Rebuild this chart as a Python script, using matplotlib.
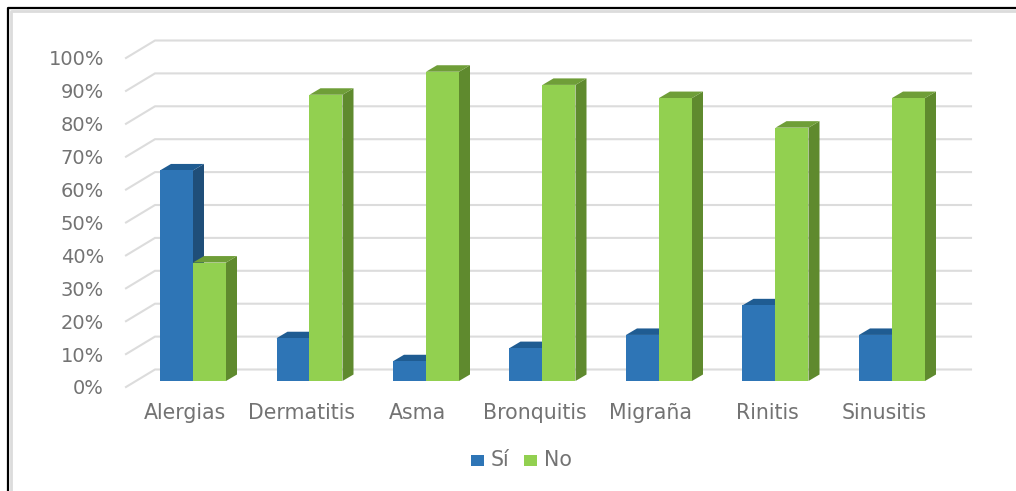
import matplotlib
matplotlib.use("Agg")
import matplotlib.pyplot as plt
from matplotlib.patches import Polygon, Rectangle
from matplotlib.lines import Line2D

plt.rcParams['font.family'] = ['DejaVu Sans']

categories = ["Alergias", "Dermatitis", "Asma", "Bronquitis", "Migraña", "Rinitis", "Sinusitis"]
si_values = [64, 13, 6, 10, 14, 23, 14]
no_values = [36, 87, 94, 90, 86, 77, 86]
y_ticks = list(range(0, 101, 10))
series_names = ["Sí", "No"]

W, H = 1016, 491
FS_TICK = 14.0
FS_CAT = 14.8
TEXT = "#737373"
fig = plt.figure(figsize=(W / 100, H / 100), dpi=100, facecolor="white")

# Canvas axes in pixel units for the frame of the picture
frame = fig.add_axes([0, 0, 1, 1], zorder=0)
frame.set_xlim(0, W)
frame.set_ylim(H, 0)
frame.axis("off")
frame.add_line(Line2D([10.6, 10.6, W], [H, 10.6, 10.6], color="#dcdcdc", lw=2.0))
frame.add_line(Line2D([8.2, 8.2, W], [H, 8.2, 8.2], color="black", lw=1.6))

# Plot axes: x in category units, y in percent
X0, XSTEP = 193.0, 116.5
Y0, YSCALE = 381.0, 3.29
ax = fig.add_axes([0, 0, 1, 1], zorder=1)
ax.set_xlim(-X0 / XSTEP, (W - X0) / XSTEP)
ax.set_ylim((Y0 - H) / YSCALE, Y0 / YSCALE)
ax.axis("off")
ax.patch.set_alpha(0)

BAR_W = 33.0 / XSTEP
DX, DY = 11.0 / XSTEP, 6.5 / YSCALE
GRID = "#dcdcdc"

# Gridlines on the side wall and back wall
left_front = (126 - X0) / XSTEP
left_back = (155 - X0) / XSTEP
right_back = (971 - X0) / XSTEP
front_drop, back_rise = 6.0 / YSCALE, 11.5 / YSCALE
for t in y_ticks:
    ax.plot([left_front, left_back, right_back],
            [t - front_drop, t + back_rise, t + back_rise],
            color=GRID, lw=1.5, solid_joinstyle="miter", zorder=1)
    ax.text((104 - X0) / XSTEP, t - front_drop - 0.6, f"{t}%",
            ha="right", va="center", color=TEXT, fontsize=FS_TICK, zorder=5)


def bar3d(x, v, front, top, side, z):
    ax.add_patch(Polygon([(x + BAR_W, 0), (x + BAR_W + DX, DY), (x + BAR_W + DX, v + DY), (x + BAR_W, v)],
                         closed=True, fc=side, ec="none", zorder=z))
    ax.add_patch(Polygon([(x, v), (x + DX, v + DY), (x + BAR_W + DX, v + DY), (x + BAR_W, v)],
                         closed=True, fc=top, ec="none", zorder=z))
    ax.add_patch(Rectangle((x, 0), BAR_W, v, fc=front, ec="none", zorder=z + 0.1))


for i, (s, n) in enumerate(zip(si_values, no_values)):
    bar3d(i - BAR_W, s, "#2e75b6", "#1f5c92", "#1f4e79", 3)
    bar3d(i, n, "#92d050", "#6f9e38", "#5f8a2e", 3.5)
    ax.text(i - 0.07, -9.7, categories[i], ha="center", va="center",
            color=TEXT, fontsize=FS_CAT, zorder=5)

# Legend entries
legend_y = 460
for px, colour, name in [(470.5, "#2e75b6", series_names[0]), (523.5, "#92d050", series_names[1])]:
    frame.add_patch(Rectangle((px, legend_y - 5.5), 13, 11, fc=colour, ec="none"))
    frame.text(px + 20, legend_y, name, ha="left", va="center", color=TEXT, fontsize=FS_CAT)

fig.savefig("out.png", dpi=100)
